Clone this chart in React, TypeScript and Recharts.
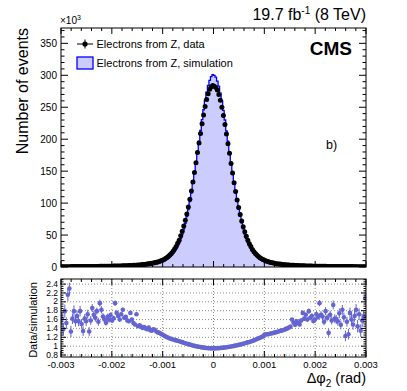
import { ComposedChart, Area, Line, XAxis, YAxis, ErrorBar, CartesianGrid } from 'recharts';

const FONT = '"Liberation Sans", Arial, Helvetica, sans-serif';
const W = 407;
const H = 391;

// plot frames in page pixels (both charts share the page coordinate system)
const PL = 61;
const PR = 366;
const TOP_T = 28;
const TOP_B = 267;
const RAT_T = 279;
const RAT_B = 357;

// 200 bins of delta phi_2 between -0.003 and 0.003 rad
const BIN_LO = -0.003;
const BIN_W = 0.00003;

// events per bin, x10^3 (data)
const dataK = [
  0.52, 0.51, 0.53, 0.53, 0.55, 0.56, 0.57, 0.59, 0.6, 0.62,
  0.63, 0.65, 0.67, 0.69, 0.71, 0.72, 0.75, 0.77, 0.79, 0.81,
  0.84, 0.86, 0.89, 0.92, 0.95, 0.98, 1.01, 1.05, 1.09, 1.13,
  1.17, 1.22, 1.27, 1.32, 1.38, 1.44, 1.5, 1.57, 1.64, 1.72,
  1.8, 1.9, 2.0, 2.1, 2.2, 2.3, 2.45, 2.6, 2.75, 2.9,
  3.1, 3.3, 3.5, 3.75, 4.0, 4.3, 4.6, 4.9, 5.3, 5.7,
  6.2, 6.7, 7.3, 8.0, 8.7, 9.6, 10.6, 11.8, 13.2, 14.8,
  16.8, 19, 21.5, 24.5, 28, 32, 37, 42, 49, 56,
  64, 73, 83, 94, 106, 119, 133, 148, 163, 179,
  194, 209, 224, 238, 251, 262, 271, 278, 282, 284,
  283, 281, 277, 270, 261, 250, 237, 223, 208, 193,
  178, 162, 147, 132, 118, 105, 93, 82, 72, 63,
  55, 48, 42, 36.5, 32, 27.5, 24, 21, 18.7, 16.5,
  14.6, 13.0, 11.7, 10.5, 9.5, 8.6, 7.9, 7.2, 6.6, 6.1,
  5.6, 5.2, 4.85, 4.5, 4.2, 3.95, 3.7, 3.45, 3.25, 3.05,
  2.85, 2.7, 2.55, 2.4, 2.28, 2.17, 2.07, 1.97, 1.87, 1.78,
  1.7, 1.62, 1.55, 1.48, 1.42, 1.36, 1.3, 1.25, 1.2, 1.15,
  1.11, 1.07, 1.03, 1.0, 0.97, 0.94, 0.91, 0.88, 0.85, 0.82,
  0.8, 0.78, 0.76, 0.74, 0.72, 0.7, 0.68, 0.66, 0.64, 0.63,
  0.61, 0.6, 0.58, 0.57, 0.56, 0.55, 0.54, 0.53, 0.52, 0.51,
];

// events per bin, x10^3 (simulation)
const simK = [
  0.31, 0.31, 0.32, 0.325, 0.335, 0.34, 0.345, 0.355, 0.365, 0.375,
  0.38, 0.395, 0.405, 0.42, 0.43, 0.44, 0.455, 0.465, 0.48, 0.49,
  0.51, 0.52, 0.54, 0.56, 0.575, 0.59, 0.61, 0.64, 0.66, 0.685,
  0.71, 0.74, 0.77, 0.8, 0.84, 0.87, 0.91, 0.95, 0.99, 1.04,
  1.1, 1.17, 1.23, 1.3, 1.38, 1.46, 1.57, 1.69, 1.81, 1.93,
  2.1, 2.24, 2.43, 2.62, 2.8, 3.07, 3.33, 3.55, 3.9, 4.2,
  4.5, 4.9, 5.5, 6.1, 6.7, 7.5, 8.4, 9.5, 10.8, 12.3,
  14.1, 16.2, 18.5, 21.3, 24.6, 28.3, 33.0, 37.8, 44.5, 51.4,
  59.5, 68.5, 78.7, 90, 102.4, 116.1, 131, 147.3, 163.3, 180.8,
  197, 213.7, 230.5, 246.1, 261, 273.5, 284, 292, 298, 301,
  300, 297, 291, 283, 272, 260, 245, 230, 213, 197,
  180.5, 163.3, 147.3, 131.3, 116.6, 102.9, 90.5, 79.2, 68.9, 59.7,
  51.6, 44.7, 38.7, 33.3, 29.0, 24.7, 21.2, 18.3, 16.1, 14.0,
  12.3, 10.8, 9.6, 8.33, 7.51, 6.77, 6.2, 5.6, 5.12, 4.69,
  4.27, 3.94, 3.65, 3.36, 3.11, 2.9, 2.7, 2.48, 2.32, 2.15,
  1.97, 1.84, 1.71, 1.59, 1.49, 1.4, 1.32, 1.25, 1.17, 1.11,
  1.05, 0.99, 0.945, 0.9, 0.86, 0.82, 0.79, 0.76, 0.73, 0.7,
  0.67, 0.65, 0.62, 0.61, 0.59, 0.57, 0.55, 0.53, 0.52, 0.5,
  0.485, 0.47, 0.46, 0.45, 0.44, 0.425, 0.41, 0.4, 0.39, 0.38,
  0.37, 0.365, 0.355, 0.345, 0.34, 0.335, 0.33, 0.32, 0.315, 0.31,
];

// data / simulation
const ratio = [
  1.62, 1.38, 1.79, 1.52, 2.16, 2.3, 1.33, 1.62, 1.79, 1.56,
  1.68, 1.56, 1.79, 1.5, 1.34, 1.62, 1.56, 1.72, 1.33, 1.58,
  1.86, 1.71, 1.64, 1.79, 1.55, 1.97, 1.82, 1.67, 1.6, 1.53,
  1.66, 1.6, 1.7, 1.58, 1.63, 1.97, 1.75, 1.68, 1.6, 1.72,
  1.82, 1.64, 1.66, 1.58, 1.56, 1.75, 1.6, 1.52, 1.49, 1.72,
  1.45, 1.47, 1.44, 1.41, 1.43, 1.4, 1.38, 1.42, 1.36, 1.35,
  1.38, 1.37, 1.33, 1.31, 1.3, 1.28, 1.26, 1.24, 1.22, 1.2,
  1.19, 1.17, 1.16, 1.15, 1.14, 1.13, 1.12, 1.11, 1.1, 1.09,
  1.075, 1.065, 1.055, 1.045, 1.035, 1.025, 1.015, 1.005, 0.998, 0.99,
  0.985, 0.978, 0.972, 0.967, 0.962, 0.958, 0.955, 0.952, 0.95, 0.95,
  0.95, 0.95, 0.952, 0.955, 0.958, 0.962, 0.966, 0.97, 0.975, 0.98,
  0.986, 0.992, 0.998, 1.005, 1.012, 1.02, 1.028, 1.036, 1.045, 1.055,
  1.065, 1.075, 1.085, 1.095, 1.105, 1.115, 1.13, 1.145, 1.16, 1.175,
  1.19, 1.205, 1.22, 1.26, 1.265, 1.27, 1.275, 1.285, 1.29, 1.3,
  1.31, 1.32, 1.33, 1.34, 1.35, 1.36, 1.37, 1.39, 1.4, 1.42,
  1.44, 1.6, 1.53, 1.48, 1.56, 1.52, 1.49, 1.58, 1.75, 1.62,
  1.71, 1.6, 1.79, 1.64, 1.68, 1.57, 1.6, 1.72, 1.66, 1.97,
  1.71, 1.67, 1.55, 1.79, 1.64, 1.3, 1.71, 1.58, 1.93, 1.62,
  1.6, 1.56, 1.74, 1.48, 1.82, 1.65, 1.23, 1.55, 1.27, 1.75,
  1.6, 1.49, 1.68, 1.82, 1.45, 1.72, 1.35, 1.58, 1.66, 2.08,
];

const ratioErr = [
  0.15, 0.14, 0.15, 0.13, 0.14, 0.13, 0.13, 0.12, 0.13, 0.12,
  0.12, 0.11, 0.12, 0.11, 0.11, 0.1, 0.11, 0.1, 0.1, 0.1,
  0.09, 0.09, 0.09, 0.08, 0.09, 0.08, 0.08, 0.08, 0.07, 0.07,
  0.07, 0.07, 0.06, 0.06, 0.06, 0.06, 0.055, 0.05, 0.05, 0.05,
  0.05, 0.045, 0.045, 0.04, 0.04, 0.04, 0.035, 0.035, 0.035, 0.03,
  0.03, 0.03, 0.028, 0.026, 0.025, 0.024, 0.022, 0.021, 0.02, 0.019,
  0.018, 0.017, 0.016, 0.015, 0.014, 0.013, 0.012, 0.012, 0.011, 0.01,
  0.01, 0.009, 0.009, 0.008, 0.008, 0.008, 0.007, 0.007, 0.007, 0.006,
  0.006, 0.006, 0.006, 0.005, 0.005, 0.005, 0.005, 0.005, 0.005, 0.005,
  0.005, 0.005, 0.005, 0.005, 0.005, 0.005, 0.005, 0.005, 0.005, 0.005,
  0.005, 0.005, 0.005, 0.005, 0.005, 0.005, 0.005, 0.005, 0.005, 0.005,
  0.005, 0.005, 0.005, 0.005, 0.005, 0.006, 0.006, 0.006, 0.006, 0.007,
  0.007, 0.007, 0.008, 0.008, 0.008, 0.009, 0.009, 0.01, 0.01, 0.011,
  0.012, 0.012, 0.013, 0.014, 0.015, 0.016, 0.017, 0.018, 0.019, 0.02,
  0.021, 0.022, 0.024, 0.025, 0.026, 0.028, 0.03, 0.03, 0.03, 0.035,
  0.035, 0.035, 0.04, 0.04, 0.04, 0.045, 0.045, 0.05, 0.05, 0.05,
  0.05, 0.055, 0.06, 0.06, 0.06, 0.06, 0.07, 0.07, 0.07, 0.07,
  0.08, 0.08, 0.08, 0.09, 0.08, 0.09, 0.09, 0.09, 0.1, 0.1,
  0.1, 0.1, 0.11, 0.1, 0.11, 0.11, 0.12, 0.11, 0.12, 0.12,
  0.13, 0.12, 0.13, 0.13, 0.14, 0.13, 0.14, 0.15, 0.14, 0.15,
];

// axis ticks
const xTicks = Array.from({ length: 31 }, (_, k) => +((k - 15) * 0.0002).toFixed(4));
const yTicksTop = Array.from({ length: 38 }, (_, k) => k * 10);
const yTicksRatio = Array.from({ length: 35 }, (_, k) => +(0.8 + k * 0.05).toFixed(2));
const ratioGridY = [0.8, 1, 1.2, 1.4, 1.6, 1.8, 2, 2.2, 2.4];
const ratioGridX = [-0.002, -0.001, 0, 0.001, 0.002];

const rows = dataK.map((d, i) => ({
  x: BIN_LO + BIN_W * (i + 0.5),
  data: d,
  sim: simK[i],
  ratio: ratio[i],
  err: ratioErr[i],
}));

const RATIO_COLOR = '#6464d2';

const isMajorX = (v: number) => Math.round(v / 0.0002) % 5 === 0;

function makeXTick(top: number, bottom: number, labels: boolean) {
  return (props: any) => {
    const { x, payload } = props;
    const v = payload.value as number;
    const len = isMajorX(v) ? 6 : 3;
    return (
      <g>
        <line x1={x} x2={x} y1={bottom} y2={bottom - len} stroke="#000" strokeWidth={1} />
        <line x1={x} x2={x} y1={top} y2={top + len} stroke="#000" strokeWidth={1} />
        {labels && isMajorX(v) && (
          <text x={x} y={bottom + 10.5} textAnchor="middle" fontSize={9.5} fontFamily={FONT} fill="#000">
            {Math.abs(v) < 1e-9 ? '0' : v.toFixed(3)}
          </text>
        )}
      </g>
    );
  };
}

const topYTick = (props: any) => {
  const { y, payload } = props;
  const v = payload.value as number;
  const major = v % 50 === 0;
  const len = major ? 7 : 3.5;
  return (
    <g>
      <line x1={PL} x2={PL + len} y1={y} y2={y} stroke="#000" strokeWidth={1} />
      <line x1={PR} x2={PR - len} y1={y} y2={y} stroke="#000" strokeWidth={1} />
      {major && (
        <text x={PL - 4} y={y + 3.5} textAnchor="end" fontSize={10} fontFamily={FONT} fill="#000">
          {v}
        </text>
      )}
    </g>
  );
};

const ratioYTick = (props: any) => {
  const { y, payload } = props;
  const v = payload.value as number;
  const major = Math.round(v * 100) % 20 === 0;
  const len = major ? 5 : 2.5;
  return (
    <g>
      <line x1={PL} x2={PL + len} y1={y} y2={y} stroke="#000" strokeWidth={1} />
      <line x1={PR} x2={PR - len} y1={y} y2={y} stroke="#000" strokeWidth={1} />
      {major && (
        <text x={PL - 3} y={y + 2.6} textAnchor="end" fontSize={8.5} fontFamily={FONT} fill="#000">
          {String(+v.toFixed(1))}
        </text>
      )}
    </g>
  );
};

export default function App() {
  return (
    <div style={{ position: 'absolute', left: 0, top: 0, width: W, height: H, background: '#fff', overflow: 'hidden' }}>
      <div style={{ position: 'absolute', left: 0, top: 0 }}>
        <ComposedChart
          width={W}
          height={H}
          data={rows}
          margin={{ top: TOP_T, right: W - PR, bottom: H - TOP_B - 2, left: 0 }}
        >
          <XAxis
            dataKey="x"
            type="number"
            domain={[-0.003, 0.003]}
            ticks={xTicks}
            interval={0}
            height={2}
            axisLine={false}
            tickLine={false}
            tick={makeXTick(TOP_T, TOP_B, false)}
            allowDataOverflow
          />
          <YAxis
            type="number"
            domain={[0, 374]}
            ticks={yTicksTop}
            interval={0}
            width={PL}
            axisLine={false}
            tickLine={false}
            tick={topYTick}
            allowDataOverflow
          />
          <Area
            type="step"
            dataKey="sim"
            fill="#ccccff"
            fillOpacity={1}
            stroke="#0000ff"
            strokeWidth={1.3}
            baseValue={0}
            isAnimationActive={false}
            activeDot={false}
          />
          <Line
            dataKey="data"
            stroke="none"
            dot={{ r: 2.5, fill: '#000', stroke: 'none' }}
            activeDot={false}
            isAnimationActive={false}
          />
        </ComposedChart>
      </div>

      <div style={{ position: 'absolute', left: 0, top: 0 }}>
        <ComposedChart
          width={W}
          height={H}
          data={rows}
          margin={{ top: RAT_T, right: W - PR, bottom: 0, left: 0 }}
        >
          <CartesianGrid
            stroke="#8a8a8a"
            strokeDasharray="1 2"
            horizontalValues={ratioGridY}
            verticalValues={ratioGridX}
          />
          <XAxis
            dataKey="x"
            type="number"
            domain={[-0.003, 0.003]}
            ticks={xTicks}
            interval={0}
            height={H - RAT_B}
            axisLine={false}
            tickLine={false}
            tick={makeXTick(RAT_T, RAT_B, true)}
            allowDataOverflow
          />
          <YAxis
            type="number"
            domain={[0.755, 2.515]}
            ticks={yTicksRatio}
            interval={0}
            width={PL}
            axisLine={false}
            tickLine={false}
            tick={ratioYTick}
            allowDataOverflow
          />
          <Line
            dataKey="ratio"
            stroke="none"
            dot={{ r: 2.3, fill: RATIO_COLOR, stroke: 'none' }}
            activeDot={false}
            isAnimationActive={false}
          >
            <ErrorBar dataKey="err" width={0} stroke={RATIO_COLOR} strokeWidth={1} direction="y" />
          </Line>
        </ComposedChart>
      </div>

      <svg
        width={W}
        height={H}
        style={{ position: 'absolute', left: 0, top: 0, pointerEvents: 'none' }}
        fontFamily={FONT}
      >
        <rect x={PL} y={TOP_T} width={PR - PL} height={TOP_B - TOP_T} fill="none" stroke="#000" strokeWidth={1} />
        <rect x={PL} y={RAT_T} width={PR - PL} height={RAT_B - RAT_T} fill="none" stroke="#000" strokeWidth={1} />

        <text x={366} y={20} textAnchor="end" fontSize={16} fill="#000">
          19.7 fb<tspan dy={-6} fontSize={10}>-1</tspan>
          <tspan dy={6}> (8 TeV)</tspan>
        </text>
        <text x={60} y={24} fontSize={10} fill="#000">
          ×10<tspan dy={-4} fontSize={7}>3</tspan>
        </text>
        <text x={352} y={55} textAnchor="end" fontSize={19} fontWeight="bold" fill="#000">CMS</text>
        <text x={326} y={149} fontSize={12.5} fill="#000">b)</text>

        <line x1={77} x2={93} y1={44} y2={44} stroke="#000" strokeWidth={1} />
        <line x1={85} x2={85} y1={39.5} y2={48.5} stroke="#000" strokeWidth={1} />
        <circle cx={85} cy={44} r={2.6} fill="#000" />
        <text x={96.5} y={48} fontSize={11} fill="#000">Electrons from Z, data</text>
        <rect x={77} y={57} width={16} height={12} fill="#ccccff" stroke="#0000ff" strokeWidth={1.3} />
        <text x={96.5} y={66.5} fontSize={11} fill="#000">Electrons from Z, simulation</text>

        <text x={28} y={28} transform="rotate(-90 28 28)" textAnchor="end" fontSize={16} fill="#000">
          Number of events
        </text>
        <text x={36.5} y={282} transform="rotate(-90 36.5 282)" textAnchor="end" fontSize={11} fill="#000">
          Data/simulation
        </text>
        <text x={366} y={382.5} textAnchor="end" fontSize={14.5} fill="#000">
          Δφ<tspan dy={4} fontSize={10}>2</tspan>
          <tspan dy={-4}> (rad)</tspan>
        </text>
      </svg>
    </div>
  );
}
